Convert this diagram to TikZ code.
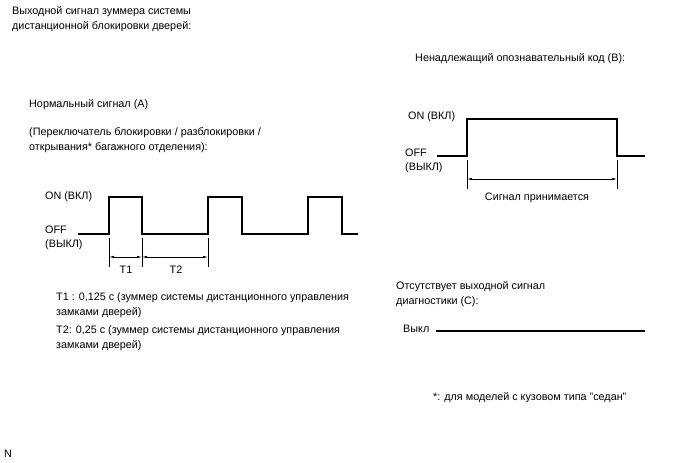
\documentclass[tikz,border=0pt]{standalone}
\usepackage{fontspec}
\setmainfont{Liberation Sans}
\usetikzlibrary{arrows.meta}

\tikzset{
    txt/.style={anchor=north west, inner sep=0pt, align=left, font=\fontsize{10.8}{15}\selectfont},
    lvl/.style={anchor=north west, inner sep=0pt, align=left, font=\fontsize{10.8}{14}\selectfont},
    wave/.style={line width=1.6pt, line join=miter},
    ext/.style={line width=0.6pt},
    dim/.style={line width=0.6pt, {Latex[length=5pt,width=2.4pt]}-{Latex[length=5pt,width=2.4pt]}}
}

\begin{document}
\begin{tikzpicture}[x=1pt,y=-1pt]
    \useasboundingbox (0,0) rectangle (688,463);

    % headings
    \node[txt] (title) at (12,6.5) {Выходной сигнал зуммера системы\\дистанционной блокировки дверей:};
    \node[txt] (headA) at (29,99.5) {Нормальный сигнал (A)};
    \node[txt] (noteA) at (29,127.5) {(Переключатель блокировки / разблокировки /\\открывания* багажного отделения):};
    \node[txt] (headB) at (415,53.5) {Ненадлежащий опознавательный код (B):};
    \node[txt] (headC) at (396,281.5) {Отсутствует выходной сигнал\\диагностики (C):};

    % signal A
    \node[txt] (onA) at (45,191.5) {ON (ВКЛ)};
    \node[lvl] (offA) at (45,225.5) {OFF\\(ВЫКЛ)};
    \draw[wave] (78,234) -- (109,234) -- (109,197) -- (142,197) -- (142,234)
        -- (208,234) -- (208,197) -- (242,197) -- (242,234)
        -- (308,234) -- (308,197) -- (342,197) -- (342,234) -- (358,234);
    \foreach \x/\n in {109/a, 142/b, 208/c} {
        \draw[ext] (\x,238) -- (\x,267);
        \coordinate (d\n) at (\x,257);
    }
    \draw[dim] (da) -- (db);
    \draw[dim] (db) -- (dc);
    \node[font=\fontsize{10.8}{12}\selectfont] (tA) at (126,270) {T1};
    \node[font=\fontsize{10.8}{12}\selectfont] (tB) at (176,270) {T2};

    \node[txt] (timeA) at (56,292.5) {T1 : 0,125 с (зуммер системы дистанционного управления\\замками дверей)};
    \node[txt] (timeB) at (56,325.5) {T2: 0,25 с (зуммер системы дистанционного управления\\замками дверей)};

    % signal B
    \node[txt] (onB) at (408,111.5) {ON (ВКЛ)};
    \node[lvl] (offB) at (405,148.5) {OFF\\(ВЫКЛ)};
    \draw[wave] (437,156) -- (467,156) -- (467,119) -- (617,119) -- (617,156) -- (645,156);
    \draw[ext] (467,160) -- (467,189);
    \draw[ext] (617,160) -- (617,189);
    \coordinate (recL) at (467,179);
    \coordinate (recR) at (617,179);
    \draw[dim] (recL) -- (recR);
    \node[font=\fontsize{10.8}{12}\selectfont] (recv) at (537,198) {Сигнал принимается};

    % signal C
    \node[anchor=west, inner sep=0pt, font=\fontsize{10.8}{12}\selectfont] (offC) at (403,329) {Выкл};
    \coordinate (lineC) at (645,331);
    \draw[wave] (offC.east) ++(6,2) -- (lineC);

    % footnote
    \node[txt] (foot) at (433,392.5) {*: для моделей с кузовом типа "седан"};
    \node[txt] (mark) at (4,449.5) {N};
\end{tikzpicture}
\end{document}
